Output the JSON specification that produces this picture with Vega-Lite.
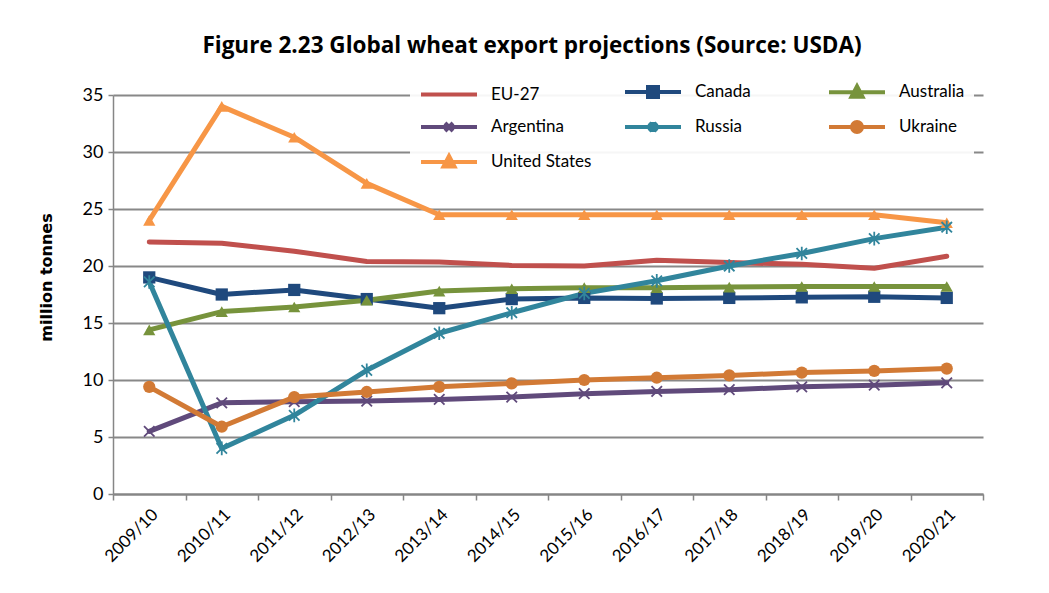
{
  "$schema": "https://vega.github.io/schema/vega-lite/v6.json",
  "autosize": "none",
  "width": 870,
  "height": 399,
  "padding": {"left": 113, "top": 95, "right": 66, "bottom": 99},
  "background": "white",
  "config": {
    "font": "Lato",
    "view": {"stroke": null},
    "legend": {
      "orient": "none",
      "legendX": 297,
      "legendY": -24,
      "direction": "horizontal",
      "columns": 3,
      "gridAlign": "all",
      "columnPadding": 25,
      "rowPadding": 8,
      "padding": 9,
      "fillColor": "rgba(255,255,255,0.92)",
      "symbolSize": 400,
      "symbolStrokeWidth": 4,
      "symbolOpacity": 1,
      "labelOffset": 48,
      "labelFontSize": 17,
      "labelColor": "#000000",
      "labelLimit": 200
    }
  },
  "title": {
    "text": "Figure 2.23 Global wheat export projections (Source: USDA)",
    "font": "Open Sans",
    "fontSize": 22.5,
    "fontWeight": "bold",
    "color": "#000000",
    "anchor": "middle",
    "dx": -16,
    "offset": 14
  },
  "data": {
    "values": [
      {"series": "EU-27", "year": "2009/10", "value": 22.1},
      {"series": "EU-27", "year": "2010/11", "value": 22.0},
      {"series": "EU-27", "year": "2011/12", "value": 21.3},
      {"series": "EU-27", "year": "2012/13", "value": 20.4},
      {"series": "EU-27", "year": "2013/14", "value": 20.35},
      {"series": "EU-27", "year": "2014/15", "value": 20.05},
      {"series": "EU-27", "year": "2015/16", "value": 20.0},
      {"series": "EU-27", "year": "2016/17", "value": 20.5},
      {"series": "EU-27", "year": "2017/18", "value": 20.3},
      {"series": "EU-27", "year": "2018/19", "value": 20.15},
      {"series": "EU-27", "year": "2019/20", "value": 19.8},
      {"series": "EU-27", "year": "2020/21", "value": 20.85},
      {"series": "Canada", "year": "2009/10", "value": 19.0},
      {"series": "Canada", "year": "2010/11", "value": 17.5},
      {"series": "Canada", "year": "2011/12", "value": 17.9},
      {"series": "Canada", "year": "2012/13", "value": 17.1},
      {"series": "Canada", "year": "2013/14", "value": 16.3},
      {"series": "Canada", "year": "2014/15", "value": 17.1},
      {"series": "Canada", "year": "2015/16", "value": 17.2},
      {"series": "Canada", "year": "2016/17", "value": 17.15},
      {"series": "Canada", "year": "2017/18", "value": 17.2},
      {"series": "Canada", "year": "2018/19", "value": 17.25},
      {"series": "Canada", "year": "2019/20", "value": 17.3},
      {"series": "Canada", "year": "2020/21", "value": 17.2},
      {"series": "Australia", "year": "2009/10", "value": 14.4},
      {"series": "Australia", "year": "2010/11", "value": 16.0},
      {"series": "Australia", "year": "2011/12", "value": 16.4},
      {"series": "Australia", "year": "2012/13", "value": 17.0},
      {"series": "Australia", "year": "2013/14", "value": 17.8},
      {"series": "Australia", "year": "2014/15", "value": 18.0},
      {"series": "Australia", "year": "2015/16", "value": 18.1},
      {"series": "Australia", "year": "2016/17", "value": 18.1},
      {"series": "Australia", "year": "2017/18", "value": 18.15},
      {"series": "Australia", "year": "2018/19", "value": 18.2},
      {"series": "Australia", "year": "2019/20", "value": 18.2},
      {"series": "Australia", "year": "2020/21", "value": 18.2},
      {"series": "Argentina", "year": "2009/10", "value": 5.5},
      {"series": "Argentina", "year": "2010/11", "value": 8.0},
      {"series": "Argentina", "year": "2011/12", "value": 8.1},
      {"series": "Argentina", "year": "2012/13", "value": 8.15},
      {"series": "Argentina", "year": "2013/14", "value": 8.3},
      {"series": "Argentina", "year": "2014/15", "value": 8.5},
      {"series": "Argentina", "year": "2015/16", "value": 8.8},
      {"series": "Argentina", "year": "2016/17", "value": 9.0},
      {"series": "Argentina", "year": "2017/18", "value": 9.15},
      {"series": "Argentina", "year": "2018/19", "value": 9.4},
      {"series": "Argentina", "year": "2019/20", "value": 9.55},
      {"series": "Argentina", "year": "2020/21", "value": 9.75},
      {"series": "Russia", "year": "2009/10", "value": 18.6},
      {"series": "Russia", "year": "2010/11", "value": 4.0},
      {"series": "Russia", "year": "2011/12", "value": 6.9},
      {"series": "Russia", "year": "2012/13", "value": 10.85},
      {"series": "Russia", "year": "2013/14", "value": 14.1},
      {"series": "Russia", "year": "2014/15", "value": 15.9},
      {"series": "Russia", "year": "2015/16", "value": 17.6},
      {"series": "Russia", "year": "2016/17", "value": 18.7},
      {"series": "Russia", "year": "2017/18", "value": 20.0},
      {"series": "Russia", "year": "2018/19", "value": 21.1},
      {"series": "Russia", "year": "2019/20", "value": 22.4},
      {"series": "Russia", "year": "2020/21", "value": 23.4},
      {"series": "Ukraine", "year": "2009/10", "value": 9.4},
      {"series": "Ukraine", "year": "2010/11", "value": 5.9},
      {"series": "Ukraine", "year": "2011/12", "value": 8.5},
      {"series": "Ukraine", "year": "2012/13", "value": 8.95},
      {"series": "Ukraine", "year": "2013/14", "value": 9.4},
      {"series": "Ukraine", "year": "2014/15", "value": 9.7},
      {"series": "Ukraine", "year": "2015/16", "value": 10.0},
      {"series": "Ukraine", "year": "2016/17", "value": 10.2},
      {"series": "Ukraine", "year": "2017/18", "value": 10.4},
      {"series": "Ukraine", "year": "2018/19", "value": 10.65},
      {"series": "Ukraine", "year": "2019/20", "value": 10.8},
      {"series": "Ukraine", "year": "2020/21", "value": 11.0},
      {"series": "United States", "year": "2009/10", "value": 24.0},
      {"series": "United States", "year": "2010/11", "value": 34.0},
      {"series": "United States", "year": "2011/12", "value": 31.3},
      {"series": "United States", "year": "2012/13", "value": 27.25},
      {"series": "United States", "year": "2013/14", "value": 24.5},
      {"series": "United States", "year": "2014/15", "value": 24.5},
      {"series": "United States", "year": "2015/16", "value": 24.5},
      {"series": "United States", "year": "2016/17", "value": 24.5},
      {"series": "United States", "year": "2017/18", "value": 24.5},
      {"series": "United States", "year": "2018/19", "value": 24.5},
      {"series": "United States", "year": "2019/20", "value": 24.5},
      {"series": "United States", "year": "2020/21", "value": 23.8}
    ]
  },
  "encoding": {
    "x": {
      "field": "year",
      "type": "ordinal",
      "scale": {"type": "band", "paddingInner": 0, "paddingOuter": 0},
      "axis": {
        "title": null,
        "labelAngle": -45,
        "labelFontSize": 17,
        "labelColor": "#000000",
        "labelPadding": 6,
        "tickBand": "extent",
        "tickSize": 6,
        "tickColor": "#868686",
        "tickWidth": 1.5,
        "domainColor": "#868686",
        "domainWidth": 2,
        "grid": false
      }
    },
    "y": {
      "field": "value",
      "type": "quantitative",
      "scale": {"domain": [0, 35], "nice": false},
      "axis": {
        "title": "million tonnes",
        "titleFont": "DejaVu Sans",
        "titleFontSize": 16,
        "titleFontWeight": "bold",
        "titleColor": "#000000",
        "titleX": -62,
        "titleY": 182,
        "titleBaseline": "alphabetic",
        "values": [0, 5, 10, 15, 20, 25, 30, 35],
        "labelFontSize": 18,
        "labelColor": "#000000",
        "labelPadding": 5,
        "tickSize": 5,
        "tickColor": "#868686",
        "tickWidth": 1.5,
        "domainColor": "#868686",
        "domainWidth": 1.5,
        "grid": true,
        "gridColor": "#888888",
        "gridWidth": 2
      }
    }
  },
  "layer": [
    {
      "mark": {"type": "point", "filled": true, "size": 1, "strokeWidth": 0.2, "opacity": 1},
      "encoding": {
        "fill": {
          "field": "series",
          "type": "nominal",
          "scale": {
            "domain": ["EU-27", "Canada", "Australia", "Argentina", "Russia", "Ukraine", "United States"],
            "range": ["#C0504D", "#1F497D", "#77933C", "#604A7B", "#31859C", "#D27A35", "#F79646"]
          },
          "legend": {"title": null, "encode": {"symbols": {"update": {"size": {"value": 400}, "strokeWidth": {"value": 4}, "opacity": {"value": 1}}}}}
        },
        "stroke": {
          "field": "series",
          "type": "nominal",
          "scale": {
            "domain": ["EU-27", "Canada", "Australia", "Argentina", "Russia", "Ukraine", "United States"],
            "range": ["#C0504D", "#1F497D", "#77933C", "#604A7B", "#31859C", "#D27A35", "#F79646"]
          },
          "legend": {"title": null, "encode": {"symbols": {"update": {"size": {"value": 400}, "strokeWidth": {"value": 4}, "opacity": {"value": 1}}}}}
        },
        "shape": {
          "field": "series",
          "type": "nominal",
          "scale": {
            "domain": ["EU-27", "Canada", "Australia", "Argentina", "Russia", "Ukraine", "United States"],
            "range": [
              "M-1,0H4.6",
              "M-1,0H4.6M1.3,-0.5H2.3V0.5H1.3Z",
              "M-1,0H4.6M1.8,-0.6L2.35,0.45H1.25Z",
              "M-1,0H4.6M1.4,-0.4L2.2,0.4M1.4,0.4L2.2,-0.4",
              "M-1,0H4.6M1.4,-0.4L2.2,0.4M1.4,0.4L2.2,-0.4M1.8,-0.5V0.5",
              "M-1,0H4.6M1.3,0A0.5,0.5 0 1,0 2.3,0A0.5,0.5 0 1,0 1.3,0Z",
              "M-1,0H4.6M1.8,-0.6L2.35,0.45H1.25Z"
            ]
          },
          "legend": {"title": null, "encode": {"symbols": {"update": {"size": {"value": 400}, "strokeWidth": {"value": 4}, "opacity": {"value": 1}}}}}
        }
      }
    },
    {
      "mark": {"type": "line", "strokeWidth": 5, "strokeCap": "round", "strokeJoin": "round"},
      "encoding": {
        "color": {
          "field": "series",
          "type": "nominal",
          "scale": {
            "domain": ["EU-27", "Canada", "Australia", "Argentina", "Russia", "Ukraine", "United States"],
            "range": ["#C0504D", "#1F497D", "#77933C", "#604A7B", "#31859C", "#D27A35", "#F79646"]
          },
          "legend": null
        }
      }
    },
    {
      "transform": [{"filter": "datum.series === 'Canada'"}],
      "mark": {"type": "point", "filled": true, "opacity": 1, "shape": "square", "size": 150},
      "encoding": {"color": {"field": "series", "type": "nominal", "legend": null}}
    },
    {
      "transform": [{"filter": "datum.series === 'Australia' || datum.series === 'United States'"}],
      "mark": {"type": "point", "filled": true, "opacity": 1, "shape": "triangle-up", "size": 150},
      "encoding": {"color": {"field": "series", "type": "nominal", "legend": null}}
    },
    {
      "transform": [{"filter": "datum.series === 'Argentina'"}],
      "mark": {"type": "point", "filled": false, "opacity": 1, "shape": "M-1,-1L1,1M-1,1L1,-1", "size": 110, "strokeWidth": 1.8},
      "encoding": {"color": {"field": "series", "type": "nominal", "legend": null}}
    },
    {
      "transform": [{"filter": "datum.series === 'Russia'"}],
      "mark": {"type": "point", "filled": false, "opacity": 1, "shape": "M-1,-1L1,1M-1,1L1,-1M0,-1.3V1.3", "size": 110, "strokeWidth": 1.8},
      "encoding": {"color": {"field": "series", "type": "nominal", "legend": null}}
    },
    {
      "transform": [{"filter": "datum.series === 'Ukraine'"}],
      "mark": {"type": "point", "filled": true, "opacity": 1, "shape": "circle", "size": 150},
      "encoding": {"color": {"field": "series", "type": "nominal", "legend": null}}
    }
  ]
}
